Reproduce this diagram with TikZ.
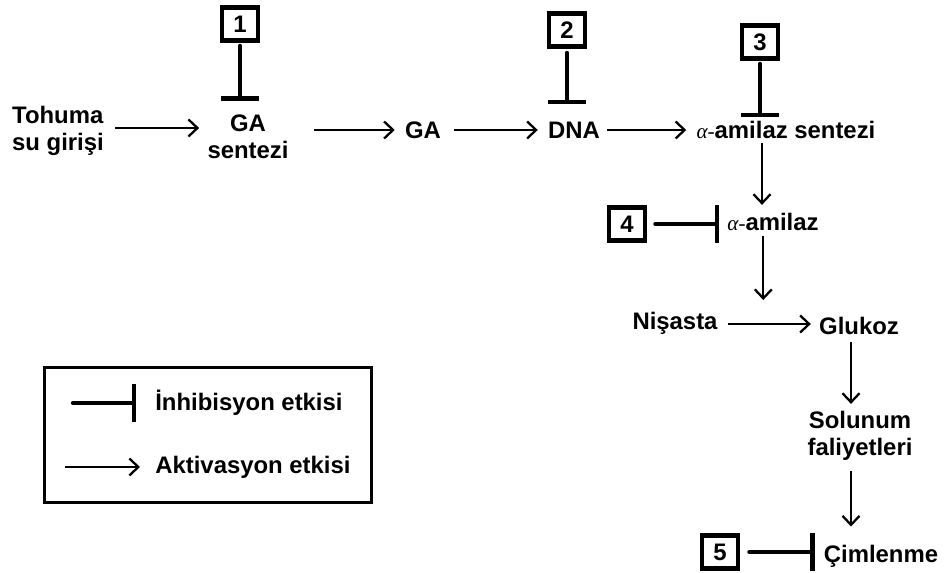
\documentclass[tikz,border=0pt]{standalone}
\usepackage{fontspec}
\setmainfont{Liberation Sans}
\newfontfamily\greekfont{Liberation Serif}
\usetikzlibrary{arrows.meta}
\definecolor{inkline}{HTML}{000000}
\tikzset{
  txt/.style={font=\fontsize{13.6}{15.5}\selectfont\bfseries, inner sep=0pt, align=center},
  numbox/.style={draw=inkline, line width=2.7pt, minimum width=0.72cm, minimum height=0.66cm, inner sep=0pt, font=\fontsize{13.6}{15}\selectfont\bfseries},
  act/.style={-{Straight Barb[length=1.8mm,width=3.4mm]}, draw=inkline, line width=1.3pt},
  inh/.style={-{Bar[width=7.6mm]}, draw=inkline, line width=2.4pt, line cap=round},
  legbox/.style={draw=inkline, line width=1.7pt, minimum width=6.56cm, minimum height=2.7cm, inner sep=0pt},
}
\newcommand{\alf}{{\greekfont\mdseries\itshape\fontsize{12}{13}\selectfont α-}}

\begin{document}
\begin{tikzpicture}[x=0.02cm,y=-0.02cm]
  \useasboundingbox (0,0) rectangle (946,573);
  % main chain
  \node[txt, align=left] (tohuma) at (58,131) {Tohuma\\su girişi};
  \node[txt] (gasent) at (248,137) {GA\\sentezi};
  \node[txt] (ga) at (423,130) {GA};
  \node[txt] (dna) at (574,130) {DNA};
  \node[txt] (amsent) at (786,130) {\alf amilaz sentezi};
  \node[txt] (amilaz) at (773,222) {\alf amilaz};
  \node[txt] (nisasta) at (675,323) {Nişasta};
  \node[txt] (glukoz) at (859,326) {Glukoz};
  \node[txt] (solunum) at (860,436) {Solunum\\faliyetleri};
  \node[txt] (cimlenme) at (881,556) {Çimlenme};
  % numbered boxes
  \node[numbox] (box1) at (240,24) {1};
  \node[numbox] (box2) at (567,30) {2};
  \node[numbox] (box3) at (760,42) {3};
  \node[numbox] (box4) at (627,224) {4};
  \node[numbox] (box5) at (720,552) {5};
  \coordinate (colA) at (762,0);
  \coordinate (colB) at (851,0);
  % activations
  \draw[act, shorten <=0.22cm, shorten >=0.16cm] (tohuma.east |- 0,128) -- (gasent.west |- 0,128);
  \draw[act, shorten <=0.5cm, shorten >=0.2cm] (gasent.east |- ga) -- (ga.west);
  \draw[act, shorten <=0.26cm, shorten >=0.2cm] (ga.east) -- (dna.west);
  \draw[act, shorten <=0.14cm, shorten >=0.2cm] (dna.east) -- (amsent.west);
  \draw[act, shorten <=0.08cm, shorten >=0.16cm] (amsent.south -| colA) -- (amilaz.north -| colA);
  \draw[act, shorten <=0.2cm, shorten >=0.16cm] (nisasta.east |- 0,324) -- coordinate[pos=0.45] (reac) (glukoz.west |- 0,324);
  \draw[act, shorten <=0.1cm, shorten >=0.48cm] (amilaz.south -| reac) -- (reac);
  \draw[act, shorten <=0.14cm, shorten >=0.14cm] (glukoz.south -| colB) -- (solunum.north -| colB);
  \draw[act, shorten <=0.2cm, shorten >=0.36cm] (solunum.south -| colB) -- (cimlenme.north -| colB);
  % inhibitions
  \draw[inh, shorten <=0.06cm, shorten >=0.28cm] (box1.south) -- (box1 |- gasent.north);
  \draw[inh, shorten <=0.08cm, shorten >=0.34cm] (box2.south) -- (box2 |- dna.north);
  \draw[inh, shorten <=0.06cm, shorten >=0.08cm] (box3.south) -- (box3 |- amsent.north);
  \draw[inh, shorten <=0.16cm, shorten >=0.16cm] (box4.east) -- (box4.east -| amilaz.west);
  \draw[inh, shorten <=0.18cm, shorten >=0.18cm] (box5.east) -- (box5.east -| cimlenme.west);
  % legend
  \node[legbox] (leg) at (208,435) {};
  \node[txt, anchor=west] (inhtxt) at (155,403) {İnhibisyon etkisi};
  \node[txt, anchor=west] (acttxt) at (155,467) {Aktivasyon etkisi};
  \draw[inh] ([xshift=-1.64cm]inhtxt.west) -- ([xshift=-0.38cm]inhtxt.west);
  \draw[act] ([xshift=-1.8cm]acttxt.west) -- ([xshift=-0.3cm]acttxt.west);
\end{tikzpicture}
\end{document}
